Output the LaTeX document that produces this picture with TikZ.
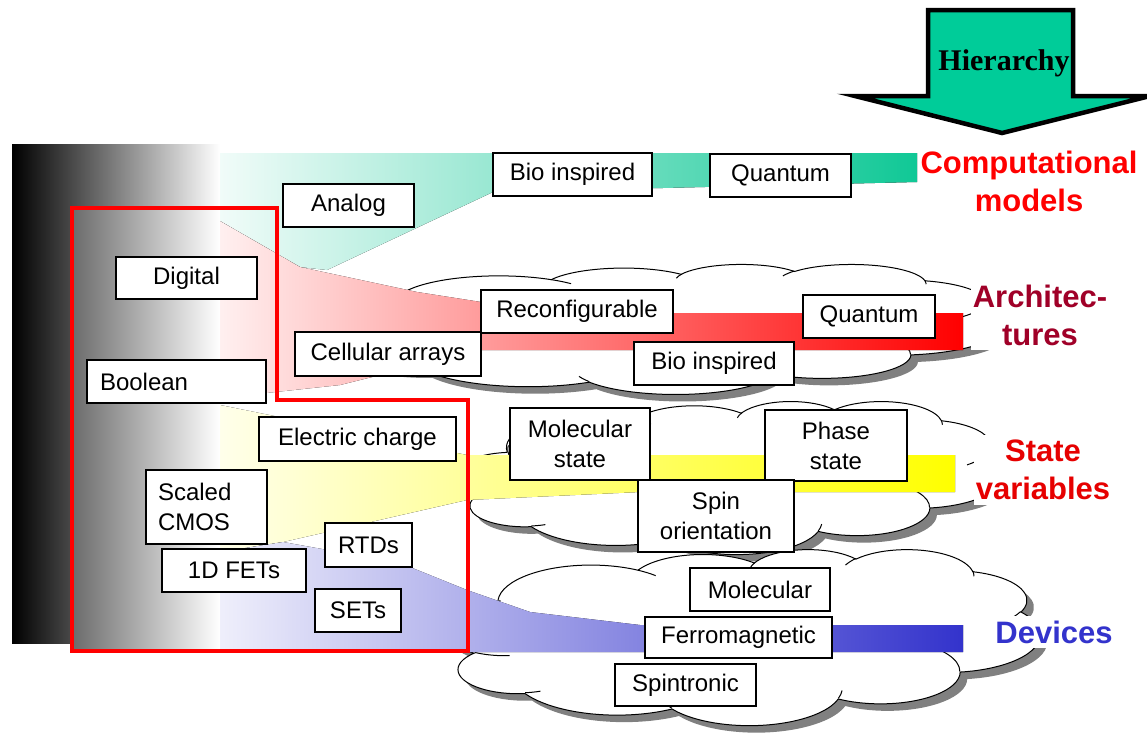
\documentclass[tikz,border=0pt]{standalone}
\usepackage{fontspec}
\setmainfont{Liberation Sans}
\newfontfamily\hierfont{Liberation Serif}
\definecolor{tealgreen}{RGB}{16,200,150}
\definecolor{archred}{RGB}{160,0,40}
\definecolor{statered}{RGB}{230,0,0}
\definecolor{devblue}{RGB}{51,51,204}
\definecolor{shadowgray}{RGB}{128,128,128}
\definecolor{arrowfill}{RGB}{0,204,153}

% cloud outline on a 432 x 432 grid, drawn clockwise from the left
\tikzset{
  cloudoutline/.style={insert path={
    (39,143.7)
    arc[start angle=-187.75, delta angle=128.16, x radius=67.53, y radius=91.90]
    arc[start angle=-152.00, delta angle=106.54, x radius=53.33, y radius=72.67]
    arc[start angle=-153.49, delta angle=116.15, x radius=43.65, y radius=59.45]
    arc[start angle=-139.71, delta angle=129.50, x radius=48.57, y radius=65.95]
    arc[start angle=-74.77, delta angle=97.98, x radius=53.33, y radius=72.73]
    arc[start angle=-37.51, delta angle=119.37, x radius=67.75, y radius=92.20]
    arc[start angle=0.46, delta angle=121.51, x radius=57.85, y radius=78.67]
    arc[start angle=16.84, delta angle=129.38, x radius=67.52, y radius=92.15]
    arc[start angle=58.98, delta angle=91.19, x radius=77.20, y radius=105.43]
    arc[start angle=-276.69, delta angle=139.80, x radius=43.60, y radius=59.18]
    arc[start angle=-239.64, delta angle=143.75, x radius=43.45, y radius=59.45]
    -- cycle}},
  cloudcreases/.style={insert path={
    (46.93,261.77) arc[start angle=85.55, delta angle=34.82, x radius=43.45, y radius=59.45]
    (69.28,348.99) arc[start angle=68.26, delta angle=15.05, x radius=43.60, y radius=59.18]
    (164.78,390.90) arc[start angle=146.22, delta angle=12.25, x radius=67.52, y radius=92.15]
    (288.27,347.51) arc[start angle=4.74, delta angle=12.10, x radius=67.52, y radius=92.15]
    (341.29,229.54) arc[start angle=-64.03, delta angle=64.49, x radius=57.85, y radius=78.67]
    (417.98,153.54) arc[start angle=23.21, delta angle=26.46, x radius=53.33, y radius=72.73]
    (383.24,54.26) arc[start angle=-10.21, delta angle=11.03, x radius=48.57, y radius=65.95]
    (290.78,39.52) arc[start angle=-156.29, delta angle=16.58, x radius=48.57, y radius=65.95]
    (221.41,47.20) arc[start angle=-167.73, delta angle=14.24, x radius=43.65, y radius=59.45]
    (140.00,51.92) arc[start angle=-59.58, delta angle=13.84, x radius=67.53, y radius=91.90]
    (41.27,157.89) arc[start angle=166.61, delta angle=20.47, x radius=67.53, y radius=91.90]}},
  cloudshadow/.style={fill=shadowgray, shift={(7pt,-7pt)}, cloudoutline},
  cloudbody/.style={fill=white, draw=black, line width=1pt, cloudoutline},
  cloudlines/.style={draw=black, line width=1pt, cloudcreases}
}

\begin{document}
\begin{tikzpicture}[x=1pt,y=-1pt,
  box/.style={draw=black, line width=1.3pt, fill=white, inner sep=0pt, align=center,
    font=\fontsize{24}{30}\selectfont},
  lbox/.style={box, align=left},
  level/.style={font=\fontsize{31}{38}\selectfont\bfseries, align=center,
    fill=white, inner xsep=2pt, inner ysep=5pt},
  frame/.style={draw=red, line width=3.5pt, line join=miter}
]
\useasboundingbox (0,0) rectangle (1147,734);

% grey ramp on the left and the lighter ramp inside the red frame
\fill[left color=black, right color=white] (12,144) rectangle (220,643);
\fill[left color=black!58, right color=white] (72,208) rectangle (220,650);

% clouds behind the coloured bands
\begin{scope}[shift={(336,264)}, x={(1.5370pt,0)}, y={(0,-0.3009pt)}]
  \path[cloudshadow]; \path[cloudbody]; \path[cloudlines];
\end{scope}
\begin{scope}[shift={(458,401)}, x={(1.2616pt,0)}, y={(0,-0.3542pt)}]
  \path[cloudshadow]; \path[cloudbody]; \path[cloudlines];
\end{scope}
\begin{scope}[shift={(445,549)}, x={(1.3773pt,0)}, y={(0,-0.4074pt)}]
  \path[cloudshadow]; \path[cloudbody]; \path[cloudlines];
\end{scope}

% bands narrowing from the left towards the level labels
\fill[left color=tealgreen!6, right color=tealgreen]
  (220,153) -- (917,153) -- (917,182) -- (493,192) -- (327,270) -- (300,267) -- (220,221) -- cycle;
\fill[left color=red!6, middle color=red!35, right color=red]
  (220,221) -- (300,267) -- (417,292) -- (481,302) -- (673,313) -- (963,313)
  -- (963,350) -- (481,350) -- (340,385) -- (220,398) -- cycle;
\fill[left color=yellow!8, right color=yellow]
  (220,405) -- (467,455) -- (955,455) -- (955,492) -- (640,492) -- (467,500)
  -- (283,542) -- (220,552) -- cycle;
\fill[left color=devblue!8, right color=devblue]
  (220,552) -- (283,542) -- (400,563) -- (467,590) -- (530,612) -- (640,625)
  -- (963,625) -- (963,652) -- (220,652) -- cycle;

% red frame
\draw[frame] (72,208) -- (277,208) -- (277,400) -- (468,400) -- (468,651) -- (72,651) -- cycle;

% computational models
\node[box, minimum width=131pt, minimum height=43pt] (analog) at (348.5,205.5) {Analog};
\node[box, minimum width=159pt, minimum height=43pt] (biotop) at (572.5,174.5) {Bio inspired};
\node[box, minimum width=141pt, minimum height=43pt] (quanttop) at (780.5,175.5) {Quantum};
\node[box, minimum width=141pt, minimum height=42pt] (digital) at (186.5,278) {Digital};
\node[lbox, text width=153pt, inner xsep=13pt, minimum height=43pt] (boolean) at (176.5,381.5) {Boolean};

% architectures
\node[box, minimum width=186pt, minimum height=44pt] (cellular) at (388,354) {Cellular arrays};
\node[box, minimum width=192pt, minimum height=43pt] (reconf) at (577,311.5) {Reconfigurable};
\node[box, minimum width=132pt, minimum height=43pt] (quantarch) at (869,316.5) {Quantum};
\node[box, minimum width=160pt, minimum height=43pt] (bioarch) at (714,363.5) {Bio inspired};

% state variables
\node[box, minimum width=197pt, minimum height=44pt] (electric) at (357.5,439) {Electric charge};
\node[box, minimum width=140pt, minimum height=72pt] (molstate) at (580,444) {Molecular\\state};
\node[box, minimum width=142pt, minimum height=71pt] (phase) at (836,445.5) {Phase\\state};
\node[box, minimum width=156pt, minimum height=72pt] (spin) at (716,516) {Spin\\orientation};

% devices
\node[lbox, text width=97pt, inner xsep=12pt, minimum height=74pt] (scaled) at (206.5,507) {Scaled\\CMOS};
\node[box, minimum width=87pt, minimum height=44pt] (rtds) at (368.5,545) {RTDs};
\node[box, minimum width=144pt, minimum height=43pt] (fets) at (234,570.5) {1D FETs};
\node[box, minimum width=86pt, minimum height=43pt] (sets) at (358,610.5) {SETs};
\node[box, minimum width=140pt, minimum height=43pt] (moldev) at (760,589.5) {Molecular};
\node[box, minimum width=187pt, minimum height=41pt] (ferro) at (738.5,637.5) {Ferromagnetic};
\node[box, minimum width=141pt, minimum height=42pt] (spintronic) at (685.5,685) {Spintronic};

% level labels
\node[level, text=red] (complabel) at (1029,181) {Computational\\models};
\node[level, text=archred] (archlabel) at (1040,315) {Architec-\\tures};
\node[level, text=statered] (statelabel) at (1043,470) {State\\variables};
\node[level, text=devblue] (devlabel) at (1054,632) {Devices};

% hierarchy arrow
\draw[fill=arrowfill, line width=4.5pt, line join=miter]
  (928,10) -- (1073,10) -- (1073,96) -- (1150,96) -- (1002,133) -- (855,96) -- (928,96) -- cycle;
\node[font=\hierfont\bfseries\fontsize{30}{36}\selectfont, inner sep=0pt] (hierlabel) at (1004,63) {Hierarchy};
\end{tikzpicture}
\end{document}
